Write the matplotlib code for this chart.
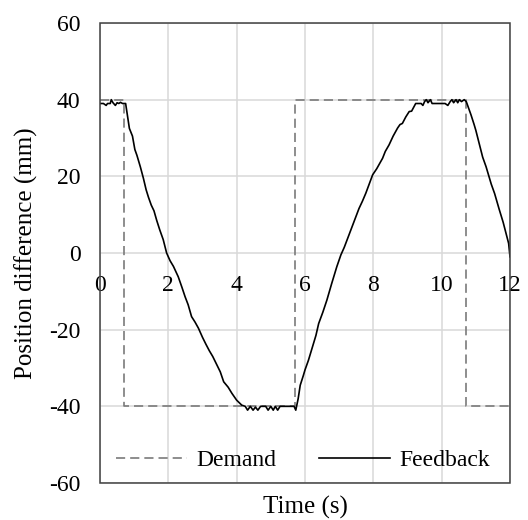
import matplotlib
matplotlib.use("Agg")
import matplotlib.pyplot as plt
from matplotlib.patches import Rectangle

plt.rcParams['font.family'] = ['Liberation Serif', 'DejaVu Serif']
plt.rcParams['axes.unicode_minus'] = False

# demand: square wave (time, position)
demand_t = [0.0, 0.7, 0.7, 5.7, 5.7, 10.7, 10.7, 12.0]
demand_y = [40, 40, -40, -40, 40, 40, -40, -40]

# feedback
fb_t = [0.00, 0.10, 0.18, 0.22, 0.30, 0.33, 0.38, 0.45, 0.50, 0.55, 0.60, 0.66, 0.75,
        0.80, 0.86, 0.95, 1.02, 1.08, 1.18, 1.27, 1.35, 1.42, 1.50, 1.58, 1.66, 1.75,
        1.85, 1.95, 2.05, 2.15, 2.29, 2.40, 2.49, 2.58, 2.68, 2.78, 2.88, 3.00, 3.10,
        3.20, 3.30, 3.42, 3.52, 3.62, 3.75, 3.86, 4.00, 4.15, 4.25, 4.32, 4.40, 4.48,
        4.55, 4.62, 4.70, 4.85, 4.92, 5.00, 5.07, 5.13, 5.20, 5.27, 5.40, 5.55, 5.68,
        5.73, 5.80, 5.86, 5.95, 6.00, 6.10, 6.25, 6.32, 6.40, 6.52, 6.64, 6.78, 6.93,
        7.05, 7.15, 7.30, 7.45, 7.58, 7.68, 7.78, 7.88, 7.98, 8.10, 8.27, 8.35, 8.46,
        8.58, 8.71, 8.78, 8.85, 8.95, 9.05, 9.12, 9.24, 9.30, 9.40, 9.45, 9.50, 9.55,
        9.60, 9.67, 9.72, 9.85, 10.00, 10.10, 10.18, 10.25, 10.30, 10.35, 10.42, 10.47,
        10.52, 10.58, 10.66, 10.72, 10.80, 10.86, 10.95, 11.00, 11.10, 11.20, 11.30,
        11.45, 11.55, 11.68, 11.80, 11.90, 11.96, 12.00]
fb_y = [39.0, 39.0, 38.5, 39.0, 39.0, 40.0, 39.2, 38.5, 39.2, 39.0, 39.3, 39.0, 39.0,
        36.0, 32.5, 30.5, 27.0, 25.5, 22.5, 19.5, 16.5, 14.5, 12.5, 11.0, 8.5, 6.0,
        3.5, 0.0, -2.0, -3.5, -6.2, -9.0, -11.4, -13.5, -16.6, -18.0, -19.6, -22.0, -23.8,
        -25.5, -27.0, -29.2, -31.0, -33.6, -35.0, -36.6, -38.4, -39.7, -40.0, -41.0, -40.0, -41.0,
        -40.2, -41.0, -40.0, -40.0, -41.0, -40.0, -41.0, -40.0, -41.0, -40.0, -40.0, -40.0, -40.0,
        -41.0, -38.0, -34.5, -32.0, -30.5, -28.0, -23.6, -21.5, -18.4, -15.5, -12.3, -8.0, -3.6,
        -0.5, 1.5, 5.0, 8.5, 11.6, 13.5, 15.6, 18.0, 20.4, 22.0, 24.7, 26.5, 28.2,
        30.5, 32.6, 33.5, 33.8, 35.5, 36.9, 37.0, 39.0, 39.0, 39.0, 38.5, 39.5, 40.0,
        39.2, 40.0, 39.0, 39.0, 39.0, 39.0, 38.5, 39.5, 40.0, 39.2, 40.0, 39.2,
        40.0, 39.5, 40.0, 39.5, 37.5, 36.0, 33.5, 32.0, 28.5, 25.0, 22.5,
        18.0, 15.5, 11.5, 8.0, 4.5, 2.5, -1.0]

x_ticks = [0, 2, 4, 6, 8, 10, 12]
y_ticks = [-60, -40, -20, 0, 20, 40, 60]

fig = plt.figure(figsize=(5.28, 5.20), dpi=100)
ax = fig.add_axes([100 / 528, 37 / 520, 410 / 528, 460 / 520])

ax.plot(demand_t, demand_y, color='#7a7a7a', lw=1.2, linestyle=(0, (5.5, 3)), label='Demand')
ax.plot(fb_t, fb_y, color='black', lw=1.2, label='Feedback')

ax.set_xlim(0, 12)
ax.set_ylim(-60, 60)
ax.set_xticks(x_ticks)
ax.set_yticks(y_ticks)
ax.grid(True, color='#d9d9d9', lw=1.1)
ax.set_axisbelow(True)

# x axis crosses at zero, so the bottom spine moves there (hidden) and
# the box is drawn separately
ax.spines['bottom'].set_position(('data', 0))
ax.spines['bottom'].set_visible(False)
for s in ['left', 'right', 'top']:
    ax.spines[s].set_visible(False)
ax.add_patch(Rectangle((0, 0), 1, 1, transform=ax.transAxes, fill=False,
                       edgecolor='#404040', lw=1.1, clip_on=False, zorder=5))

ax.tick_params(axis='y', length=0, pad=14, labelsize=17)
ax.tick_params(axis='x', length=0, pad=16, labelsize=17)

ax.set_xlabel('Time (s)', fontsize=18)
ax.xaxis.set_label_coords(0.5, -0.027)
ax.set_ylabel('Position difference (mm)', fontsize=18, labelpad=8)

ax.legend(loc='center', bbox_to_anchor=(0.495, 0.05), ncol=2, frameon=False,
          fontsize=17, handlelength=3.0, handletextpad=0.4, columnspacing=1.8)

fig.savefig('out.png', dpi=100)
